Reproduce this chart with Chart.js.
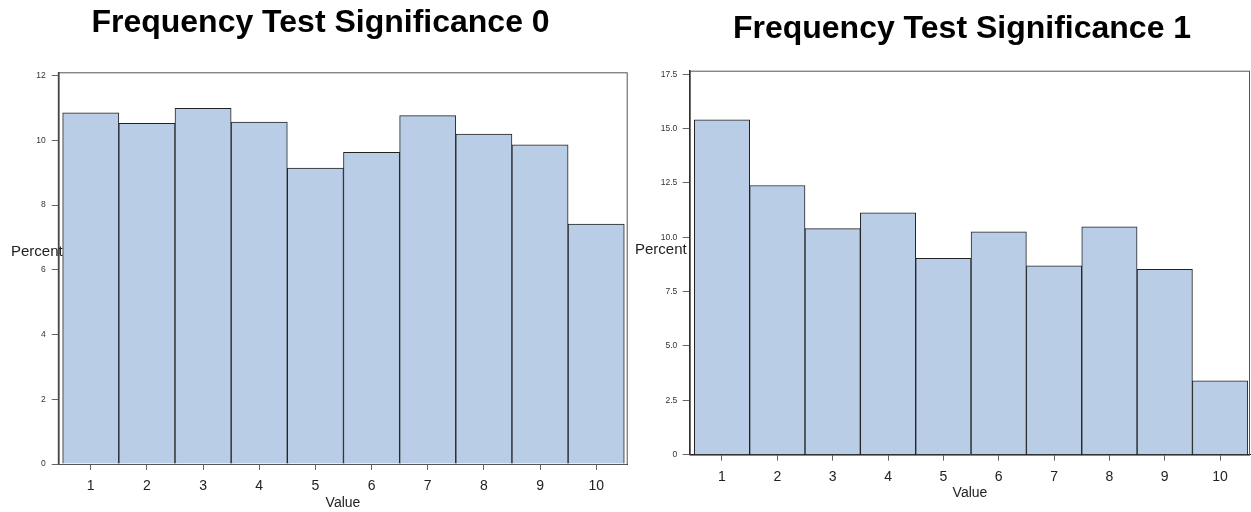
<!DOCTYPE html>
<html lang="en">
  <head>
    <meta charset="utf-8" />
    <title>Frequency Test Significance</title>
    <style>
      * {
        margin: 0;
        padding: 0;
      }
      body {
        width: 1251px;
        height: 512px;
        overflow: hidden;
        background: white;
        position: relative;
      }
      .box {
        position: absolute;
        top: 0;
        height: 512px;
      }
      #leftBox {
        left: 0;
        width: 632px;
      }
      #rightBox {
        left: 630px;
        width: 621px;
      }
    </style>
  </head>
  <body>
    <div class="box" id="leftBox"><canvas id="chart0"></canvas></div>
    <div class="box" id="rightBox"><canvas id="chart1"></canvas></div>

    <script src="https://cdn.jsdelivr.net/npm/chart.js"></script>

    <script>
      const categories = [1, 2, 3, 4, 5, 6, 7, 8, 9, 10];
      const values0 = [10.85, 10.52, 10.99, 10.56, 9.14, 9.63, 10.76, 10.19, 9.86, 7.41];
      const values1 = [15.4, 12.38, 10.4, 11.12, 9.03, 10.25, 8.69, 10.48, 8.52, 3.4];
      const yTicks0 = [0, 2, 4, 6, 8, 10, 12];
      const yTicks1 = [0, 2.5, 5, 7.5, 10, 12.5, 15, 17.5];

      const barFill = "rgb(185, 206, 230)";
      const font = "Arial, 'Liberation Sans', sans-serif";

      // frame, title and the horizontal "Percent" label
      const sasDecor = {
        id: "sasDecor",
        beforeDatasetsDraw(chart, args, opts) {
          const { ctx, chartArea: a } = chart;
          ctx.save();
          ctx.strokeStyle = "#555";
          ctx.lineWidth = 1;
          ctx.strokeRect(a.left, a.top + 0.5, a.right - a.left - 0.5, a.bottom - a.top);
          ctx.restore();
        },
        afterDraw(chart, args, opts) {
          const { ctx } = chart;
          ctx.save();
          ctx.fillStyle = "#000";
          ctx.font = "bold 32px " + font;
          ctx.textAlign = "center";
          ctx.textBaseline = "middle";
          ctx.fillText(opts.title, opts.titleX, opts.titleY);
          ctx.font = "15px " + font;
          ctx.fillStyle = "#222";
          ctx.textAlign = "left";
          ctx.fillText("Percent", opts.labelX, opts.labelY);
          ctx.restore();
        },
      };

      function makeChart(id, values, yTicks, s) {
        const points = categories.map((c, i) => ({ x: c, y: values[i] }));
        return new Chart(document.getElementById(id), {
          type: "bar",
          data: {
            datasets: [
              {
                data: points,
                backgroundColor: barFill,
                borderColor: "#222",
                borderWidth: 1,
                barPercentage: 1,
                categoryPercentage: 1,
              },
            ],
          },
          options: {
            responsive: true,
            maintainAspectRatio: false,
            animation: false,
            layout: { padding: s.padding },
            plugins: {
              legend: { display: false },
              tooltip: { enabled: false },
              sasDecor: s.decor,
            },
            scales: {
              x: {
                type: "linear",
                offset: false,
                min: s.xMin,
                max: s.xMax,
                afterBuildTicks: (sc) => {
                  sc.ticks = categories.map((v) => ({ value: v }));
                },
                afterFit: (sc) => {
                  sc.height = s.xHeight;
                },
                grid: {
                  offset: false,
                  drawOnChartArea: false,
                  drawTicks: true,
                  tickLength: 6,
                  color: "#666",
                },
                border: { color: "#111", width: 1 },
                ticks: {
                  font: { family: font, size: 14 },
                  color: "#222",
                  padding: s.xPad,
                  maxRotation: 0,
                  autoSkip: false,
                },
                title: {
                  display: true,
                  text: "Value",
                  font: { family: font, size: 14 },
                  color: "#222",
                  padding: { top: 0, bottom: s.titlePad },
                },
              },
              y: {
                min: 0,
                max: s.yMax,
                afterBuildTicks: (sc) => {
                  sc.ticks = yTicks.map((v) => ({ value: v }));
                },
                afterFit: (sc) => {
                  sc.width = s.yWidth;
                },
                grid: {
                  drawOnChartArea: false,
                  drawTicks: true,
                  tickLength: s.yTick,
                  color: "#666",
                },
                border: { color: "#111", width: 1.5 },
                ticks: {
                  font: { family: font, size: 8.5 },
                  color: "#333",
                  padding: s.yPad,
                  callback: s.fmt,
                },
              },
            },
          },
          plugins: [sasDecor],
        });
      }

      makeChart("chart0", values0, yTicks0, {
        padding: { top: 72.3, left: 0, right: 4.3, bottom: 0 },
        xMin: 0.422,
        xMax: 10.561,
        yMax: 12.1,
        xHeight: 48,
        yWidth: 58.3,
        xPad: 8,
        yPad: 6,
        yTick: 6.6,
        titlePad: 0.6,
        fmt: (v) => String(v),
        decor: {
          title: "Frequency Test Significance 0",
          titleX: 320.5,
          titleY: 23,
          labelX: 11,
          labelY: 252,
        },
      });

      makeChart("chart1", values1, yTicks1, {
        padding: { top: 70.7, left: 0, right: 1, bottom: 0 },
        xMin: 0.422,
        xMax: 10.54,
        yMax: 17.66,
        xHeight: 57.3,
        yWidth: 60,
        xPad: 7.6,
        yPad: 5.4,
        yTick: 7.3,
        titlePad: 10.3,
        fmt: (v) => (v === 0 ? "0" : v.toFixed(1)),
        decor: {
          title: "Frequency Test Significance 1",
          titleX: 332,
          titleY: 29,
          labelX: 5,
          labelY: 250,
        },
      });
    </script>
  </body>
</html>
